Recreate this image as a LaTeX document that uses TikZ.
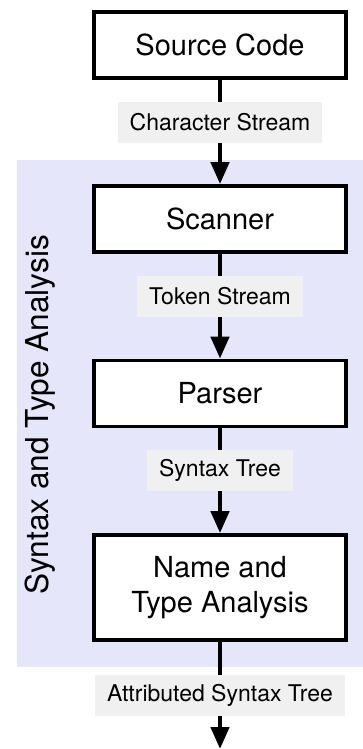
\documentclass[tikz,border=0pt]{standalone}
\usepackage{fontspec}
\setmainfont{TeX Gyre Heros}
\usetikzlibrary{arrows.meta}
\definecolor{bgblue}{RGB}{230,230,250}
\definecolor{lblgray}{RGB}{240,240,240}
\begin{document}
\begin{tikzpicture}[x=1pt,y=-1pt,
  stagebox/.style={draw=black, line width=3.8pt, fill=white, minimum width=252pt, minimum height=66pt, inner sep=0pt, font=\fontsize{29}{35}\selectfont, align=center},
  flowlabel/.style={fill=lblgray, inner xsep=12pt, inner ysep=0pt, minimum height=41pt, font=\fontsize{23}{28}\selectfont},
  flowarrow/.style={line width=4.5pt, -{Triangle[width=18pt,length=22pt]}}
]
\useasboundingbox (0,0) rectangle (363,749);
\fill[bgblue] (17,160) rectangle (363,667);
\node[rotate=90, font=\fontsize{31.6}{38}\selectfont] (grp) at (40.5,415) {Syntax and Type Analysis};
\node[stagebox] (src) at (220,45) {Source Code};
\node[stagebox] (scan) at (220,219) {Scanner};
\node[stagebox] (pars) at (220,393.5) {Parser};
\node[stagebox, minimum height=105pt] (nta) at (220,587.5) {Name and\\Type Analysis};
\coordinate (out) at (220,749);
\draw[flowarrow] (src) -- (scan);
\draw[flowarrow] (scan) -- (pars);
\draw[flowarrow] (pars) -- (nta);
\draw[flowarrow] (nta) -- (out);
\node[flowlabel] (l1) at (220,122.5) {Character Stream};
\node[flowlabel] (l2) at (220,296.5) {Token Stream};
\node[flowlabel] (l3) at (220,470.5) {Syntax Tree};
\node[flowlabel] (l4) at (220,695.5) {Attributed Syntax Tree};
\end{tikzpicture}
\end{document}
